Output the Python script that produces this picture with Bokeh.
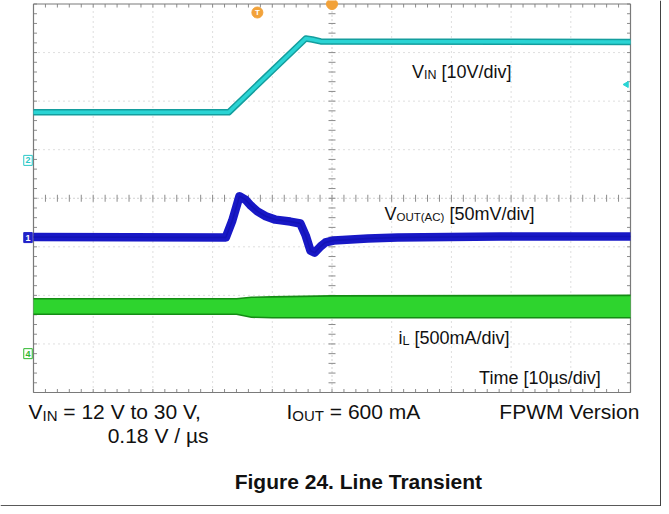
import numpy as np
from bokeh.plotting import figure
from bokeh.models import Range1d
from bokeh.core.properties import value
from bokeh.embed import file_html
from bokeh.resources import INLINE

# ---- data, in scope divisions (x: 10 div = 100 us, y: 8 div) ----
vin_t = [0.0, 3.27, 4.56, 4.67, 4.81, 10.0]
vin_v = [5.77, 5.77, 7.29, 7.27, 7.23, 7.22]

vout_t = [0.0, 3.22, 3.33, 3.45, 3.55, 3.64, 3.75, 3.89, 4.05, 4.30, 4.47,
          4.56, 4.64, 4.71, 4.81, 4.89, 5.03, 5.60, 6.10, 7.82, 10.0]
vout_v = [3.20, 3.19, 3.54, 4.04, 3.97, 3.85, 3.73, 3.63, 3.56, 3.52, 3.48,
          3.23, 2.92, 2.88, 3.01, 3.09, 3.13, 3.17, 3.19, 3.21, 3.21]

il_t = [0.0, 3.40, 3.65, 4.00, 5.00, 10.0]
il_top = [1.93, 1.93, 1.96, 1.97, 1.99, 2.00]
il_bot = [1.61, 1.61, 1.55, 1.54, 1.54, 1.54]

ch_markers = ["2", "1", "4"]
ch_levels = [4.78, 3.19, 0.80]
trigger_t = 3.75

vin_label = [("V", 0), ("IN", 1), (" [10V/div]", 0)]
vout_label = [("V", 0), ("OUT(AC)", 1), (" [50mV/div]", 0)]
il_label = [("i", 0), ("L", 1), (" [500mA/div]", 0)]
time_label = [("Time [10\u00b5s/div]", 0)]
cond1 = [("V", 0), ("IN", 1), (" = 12 V to 30 V,", 0)]
cond2 = [("0.18 V / \u00b5s", 0)]
cond3 = [("I", 0), ("OUT", 1), (" = 600 mA", 0)]
cond4 = [("FPWM Version", 0)]
title = "Figure 24. Line Transient"

# ---- layout helpers (reference pixel -> division) ----
PX_U, PX_V, X0, Y0 = 59.7, 48.56, 33.0, 392.0
def ux(X):
    return (X - X0) / PX_U
def vy(Y):
    return (Y0 - Y) / PX_V

AW = {" ": 278, "V": 667, "I": 278, "N": 722, "O": 778, "U": 722, "T": 611,
      "(": 333, ")": 333, "A": 667, "C": 722, "[": 278, "]": 278, "/": 278,
      "d": 556, "i": 222, "v": 500, "m": 833, "L": 556, "e": 556, "\u00b5": 576,
      "s": 500, "=": 584, "t": 278, "o": 556, ",": 278, ".": 278, "F": 611,
      "P": 667, "W": 944, "M": 833, "r": 333, "n": 556}
AWB = {"F": 611, "i": 278, "g": 611, "u": 611, "r": 389, "e": 556, " ": 278,
       ".": 278, "L": 611, "n": 611, "T": 611, "a": 556, "s": 556, "t": 333}

def tw(s, px, bold=False):
    tab = AWB if bold else AW
    return sum(tab.get(c, 556) for c in s) * px / 1000.0

p = figure(width=661, height=506,
           x_range=Range1d(ux(0), ux(661)), y_range=Range1d(vy(506), vy(0)),
           output_backend="svg", toolbar_location=None,
           x_axis_location=None, y_axis_location=None, min_border=0,
           outline_line_color=None, background_fill_color="white",
           border_fill_color="white")
p.xgrid.visible = False
p.ygrid.visible = False

def put(pieces, X, Y, size, sub, dy, align="left", bold=False, color="#111111"):
    sizes = [sub if s else size for _, s in pieces]
    total = sum(tw(t, sz, bold) for (t, _), sz in zip(pieces, sizes))
    if align == "right":
        X -= total
    elif align == "center":
        X -= total / 2
    for (t, s), sz in zip(pieces, sizes):
        lead = len(t) - len(t.lstrip(" "))
        X += tw(" " * lead, sz, bold)
        body = t.lstrip(" ")
        p.text(x=[ux(X)], y=[vy(Y + (dy if s else 0))], text=[body],
               text_font=value("Liberation Sans"), text_font_size=f"{sz}px",
               text_baseline="alphabetic", text_align="left",
               text_color=color, text_font_style="bold" if bold else "normal")
        X += tw(body, sz, bold)

# ---- graticule ----
major_u = [u for u in range(1, 10) if u != 5]
major_v = [v for v in range(1, 8) if v != 4]
p.segment(x0=major_u, y0=[0] * len(major_u), x1=major_u, y1=[8] * len(major_u),
          line_color="#BDBDBD", line_dash="1 4", line_width=1)
p.segment(x0=[0] * len(major_v), y0=major_v, x1=[10] * len(major_v), y1=major_v,
          line_color="#BDBDBD", line_dash="1 4", line_width=1)
p.segment(x0=[5, 0], y0=[0, 4], x1=[5, 10], y1=[8, 4],
          line_color="#A0A0A0", line_dash="1 3", line_width=1)

mu = np.round(np.arange(0, 10.001, 0.2), 3)
mv = np.round(np.arange(0, 8.001, 0.2), 3)
tu, tv = 3.5 / PX_U, 3.5 / PX_V
tick_c = "#8C8C8C"
p.segment(x0=5 - tu, y0=mv, x1=5 + tu, y1=mv, line_color=tick_c)
p.segment(x0=mu, y0=4 - tv, x1=mu, y1=4 + tv, line_color=tick_c)
p.segment(x0=0, y0=mv, x1=tu, y1=mv, line_color=tick_c)
p.segment(x0=10 - tu, y0=mv, x1=10, y1=mv, line_color=tick_c)
p.segment(x0=mu, y0=0, x1=mu, y1=tv, line_color=tick_c)
p.segment(x0=mu, y0=8 - tv, x1=mu, y1=8, line_color=tick_c)
p.segment(x0=[0, 10, 0, 0], y0=[0, 0, 0, 8], x1=[0, 10, 10, 10], y1=[8, 8, 0, 8],
          line_color="#7A7A7A", line_width=1.2)

# ---- traces ----
p.varea(x=il_t, y1=il_bot, y2=il_top, fill_color="#2ED42E")
p.line(il_t, il_top, line_color="#148C14", line_width=1.6)
p.line(il_t, il_bot, line_color="#148C14", line_width=1.6)

p.line(vout_t, vout_v, line_color="#1818C6", line_width=8.5, line_join="round")
p.line(vout_t, vout_v, line_color="#0E0EA6", line_width=1.5, line_alpha=0.5)

p.line(vin_t, vin_v, line_color="#149E9E", line_width=6.5, line_join="round")
p.line(vin_t, vin_v, line_color="#2AD4D4", line_width=3.5, line_join="round")

# ---- channel markers ----
mk_u = ux(27.5)
mk_w, mk_h = 8.5 / PX_U, 10 / PX_V
p.rect(x=[mk_u, mk_u], y=[ch_levels[0], ch_levels[2]], width=mk_w, height=mk_h,
       fill_color="white", line_color=["#2AC8C8", "#2EB82E"], line_width=1)
p.rect(x=[mk_u], y=[ch_levels[1]], width=mk_w, height=mk_h,
       fill_color="#2222C8", line_color="#2222C8")
p.text(x=[mk_u] * 3, y=ch_levels, text=ch_markers,
       text_color=["#2AC8C8", "white", "#2EB82E"],
       text_font=value("Liberation Sans"), text_font_size="9px",
       text_font_style="bold", text_align="center", text_baseline="middle")

p.scatter(x=[trigger_t], y=[vy(12)], size=11, marker="circle",
          fill_color="#F2A23A", line_color="#F2A23A")
p.text(x=[trigger_t], y=[vy(12)], text=["T"], text_color="white",
       text_font=value("Liberation Sans"), text_font_size="8px",
       text_font_style="bold", text_align="center", text_baseline="middle")
p.scatter(x=[5.0], y=[8.0], size=11, marker="circle",
          fill_color="#F2A23A", line_color="#F2A23A")
p.scatter(x=[ux(626)], y=[vy(84)], size=6, marker="triangle", angle=np.pi / 2,
          fill_color="#2AD4D4", line_color="#2AD4D4")

# ---- outer frame ----
p.segment(x0=[ux(660.3), ux(0)], y0=[vy(0), vy(505.3)],
          x1=[ux(660.3), ux(660.3)], y1=[vy(505.3), vy(505.3)],
          line_color="#222222", line_width=1.3)

# ---- texts ----
put(vin_label, 511, 71, 18, 12.5, 3, align="right")
put(vout_label, 384, 213, 18, 11.5, 3, align="left")
put(il_label, 398, 337, 18, 12.5, 3, align="left")
put(time_label, 601, 377, 18, 12, 3, align="right")
put(cond1, 28, 411, 21, 15, 4, align="left")
put(cond2, 208, 435, 21, 15, 4, align="right")
put(cond3, 286, 411, 21, 15, 4, align="left")
put(cond4, 640, 411, 21, 15, 4, align="right")
put([(title, 0)], 358.5, 481, 21, 15, 0, align="center", bold=True)

open("out.html", "w").write(file_html(p, INLINE))
